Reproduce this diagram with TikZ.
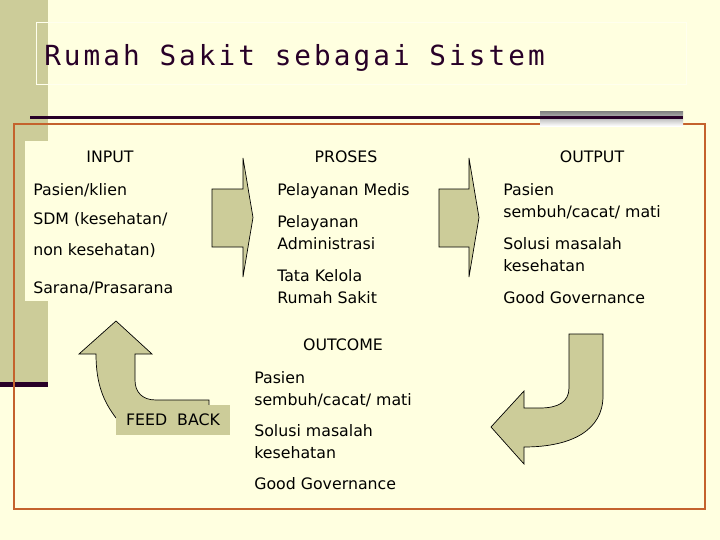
\documentclass[tikz,border=0pt]{standalone}
\usepackage{fontspec}
\setmainfont{DejaVu Sans}
\newfontfamily\titlefont[LetterSpace=11]{DejaVu Sans Mono}
\usetikzlibrary{positioning}
\definecolor{cream}{RGB}{255,255,224}
\definecolor{sage}{RGB}{204,204,153}
\definecolor{rust}{RGB}{196,98,45}
\definecolor{darkline}{RGB}{40,0,40}
\definecolor{shade}{RGB}{178,178,178}
\newcommand\bodyfont{\fontsize{11.4}{15.84}\selectfont}

\begin{document}
\begin{tikzpicture}[
  x=0.01in, y=-0.01in,
  head/.style={anchor=base, inner sep=0pt, font=\bodyfont},
  item/.style={anchor=base west, inner sep=0pt, align=left, font=\bodyfont},
  blockarrow/.style={fill=sage, draw=black, line width=0.5pt},
  fbbox/.style={fill=sage, inner sep=0pt, minimum width=1.14in,
                minimum height=0.30in, font=\bodyfont}
]
  % Slide background and left bar
  \fill[cream] (0,0) rectangle (720,540);
  \useasboundingbox (0,0) rectangle (720,540);
  \fill[sage] (0,0) rectangle (48,384);
  \fill[darkline] (0,382) rectangle (48,387);

  % Title
  \draw[white!45!cream, line width=0.6pt] (36,22) rectangle (686,84);
  \node[anchor=base west, inner sep=0pt, text=darkline,
        font=\titlefont\fontsize{20}{22}\selectfont] (title) at (44,65)
    {Rumah Sakit sebagai Sistem};

  % Frame and rule under the title
  \draw[rust, line width=1pt] (14,124) rectangle (705,509);
  \fill[shade] (540,111) rectangle (683,126);
  \fill[darkline] (30,115.5) rectangle (683,119);
  \fill[cream] (25,141) rectangle (200,301);

  % Block arrows between the columns
  \draw[blockarrow] (212,189) -- (243,189) -- (243,158) -- (253,217.5)
    -- (243,277) -- (243,247) -- (212,247) -- cycle;
  \draw[blockarrow] (439,189) -- (469,189) -- (469,158) -- (479,217.5)
    -- (469,277) -- (469,247) -- (439,247) -- cycle;

  % Input (base = last line)
  \node[head] (inhead) at (110,162) {INPUT};
  \node[item] (in1) at (33,195) {Pasien/klien};
  \node[item] (in2) at (33,224) {SDM (kesehatan/};
  \node[item] (in3) at (33,255) {non kesehatan)};
  \node[item] (in4) at (33,293) {Sarana/Prasarana};

  % Proses
  \node[head] (prhead) at (346,162) {PROSES};
  \node[item] (pr1) at (277,195) {Pelayanan Medis};
  \node[item] (pr2) at (277,249) {Pelayanan\\Administrasi};
  \node[item] (pr3) at (277,303) {Tata Kelola\\Rumah Sakit};

  % Output
  \node[head] (outhead) at (592,162) {OUTPUT};
  \node[item] (out1) at (503,217) {Pasien\\sembuh/cacat/ mati};
  \node[item] (out2) at (503,271) {Solusi masalah\\kesehatan};
  \node[item] (out3) at (503,303) {Good Governance};

  % Outcome
  \node[head] (ochead) at (343,350) {OUTCOME};
  \node[item] (oc1) at (254,405) {Pasien\\sembuh/cacat/ mati};
  \node[item] (oc2) at (254,458) {Solusi masalah\\kesehatan};
  \node[item] (oc3) at (254,489) {Good Governance};

  % Feed back arrow (behind its label)
  \draw[blockarrow] (116,418) .. controls (104,402) and (96,385) .. (96,354)
    -- (79,354) -- (116,321) -- (152,354) -- (135,354) -- (135,380)
    .. controls (135,392) and (142,400) .. (156,400) -- (209,400)
    -- (209,412) -- cycle;
  \node[fbbox] (fb) at (173,420) {FEED\ \ BACK};

  % Return arrow on the right
  \draw[blockarrow] (569,334) -- (603,334) -- (603,396)
    .. controls (603,430) and (572,447) .. (524,447) -- (524,464)
    -- (491,427) -- (524,391) -- (524,408) -- (540,408)
    .. controls (558,408) and (569,402) .. (569,388) -- cycle;
\end{tikzpicture}
\end{document}
